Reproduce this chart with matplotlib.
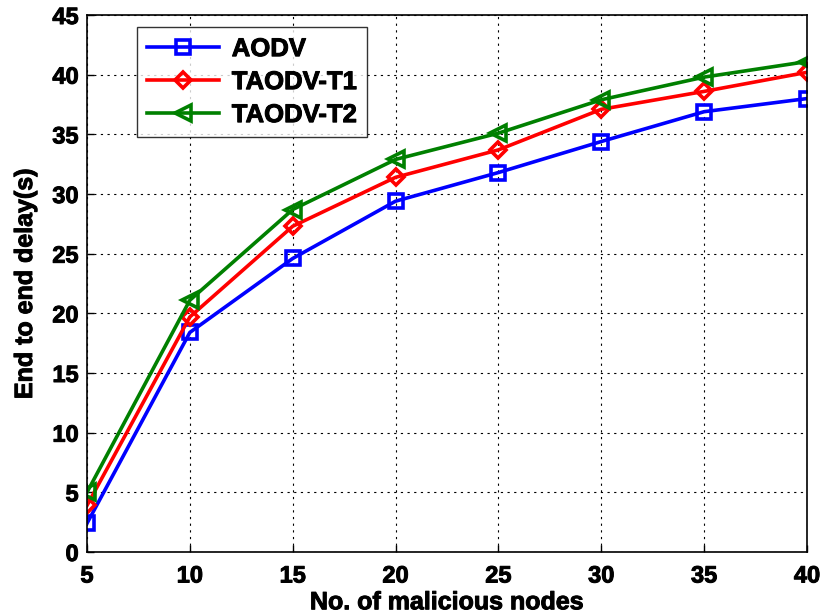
import matplotlib
matplotlib.use("Agg")
import matplotlib.pyplot as plt
import matplotlib.patheffects as pe

nodes = [5, 10, 15, 20, 25, 30, 35, 40]
aodv = [2.4, 18.4, 24.6, 29.4, 31.8, 34.4, 36.9, 38.0]
taodv_t1 = [3.9, 19.7, 27.3, 31.4, 33.7, 37.1, 38.6, 40.2]
taodv_t2 = [5.0, 21.1, 28.7, 32.9, 35.1, 37.9, 39.8, 41.1]

plt.rcParams['font.family'] = ['Liberation Sans', 'DejaVu Sans']
plt.rcParams['font.weight'] = 'bold'

fig = plt.figure(figsize=(8.23, 6.16), dpi=100)
ax = fig.add_axes([0.1057, 0.1039, 0.8749, 0.8717])

ax.plot(nodes, aodv, color='blue', lw=2.6, marker='s', ms=9.5, mfc='none', mew=2.6, label='AODV')
ax.plot(nodes, taodv_t1, color='red', lw=2.6, marker='D', ms=8.5, mfc='none', mew=2.6, label='TAODV-T1')
ax.plot(nodes, taodv_t2, color='green', lw=2.6, marker='<', ms=11, mfc='none', mew=2.6, label='TAODV-T2')

ax.set_xlim(5, 40)
ax.set_ylim(0, 45)
ax.set_xticks(range(5, 41, 5))
ax.set_yticks(range(0, 46, 5))
ax.grid(True, color='black', linestyle=(0, (2, 4)), linewidth=0.8)
ax.tick_params(direction='in', labelsize=17, length=5, width=1)
ax.tick_params(axis='x', pad=9)
ax.tick_params(axis='y', pad=6)
for sp in ax.spines.values():
    sp.set_linewidth(1.2)

stroke = [pe.withStroke(linewidth=0.7, foreground='black')]
ax.set_xlabel('No. of malicious nodes', fontsize=18, fontweight='bold', labelpad=2, path_effects=stroke)
ax.set_ylabel('End to end delay(s)', fontsize=18, fontweight='bold', labelpad=11, path_effects=stroke)
for lab in ax.get_xticklabels() + ax.get_yticklabels():
    lab.set_path_effects(stroke)

leg = ax.legend(loc='upper left', bbox_to_anchor=(0.069, 0.978), borderaxespad=0, fontsize=18.5,
                frameon=True, fancybox=False, edgecolor='black', handlelength=2.8, handletextpad=0.5,
                borderpad=0.4, labelspacing=0.35)
leg.get_frame().set_linewidth(1.0)
for t in leg.get_texts():
    t.set_path_effects(stroke)

fig.savefig('out.png', dpi=100)
